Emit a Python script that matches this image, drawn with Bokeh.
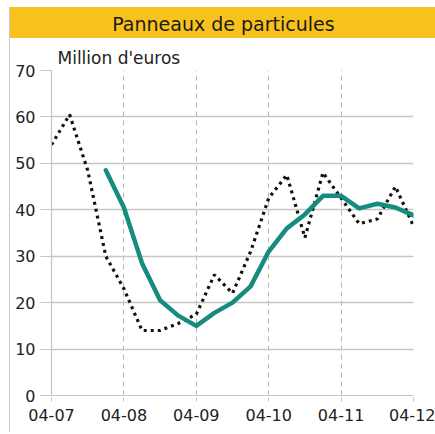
from bokeh.plotting import figure
from bokeh.layouts import column, row
from bokeh.models import FixedTicker, Range1d, Spacer
from bokeh.embed import file_html
from bokeh.resources import INLINE

# months since 2004-07 (quarterly)
months_dotted = [0, 3, 6, 9, 12, 15, 18, 21, 24, 27, 30, 33, 36, 39, 42, 45, 48, 51, 54, 57, 60]
values_dotted = [54, 60.5, 48.5, 30, 23, 14, 14, 15.5, 17.5, 26, 22, 31, 42.5, 47.5, 34, 48, 42.5, 37, 38, 45, 36.5]

months_trend = [9, 12, 15, 18, 21, 24, 27, 30, 33, 36, 39, 42, 45, 48, 51, 54, 57, 60]
values_trend = [48.5, 40.5, 28.5, 20.5, 17.2, 15, 17.8, 20, 23.5, 31, 36, 39, 43, 43, 40.3, 41.3, 40.5, 38.8]

tick_months = [0, 12, 24, 36, 48, 60]
tick_labels = ["04-07", "04-08", "04-09", "04-10", "04-11", "04-12"]
y_ticks = [0, 10, 20, 30, 40, 50, 60, 70]

TITLE = "Panneaux de particules"
UNIT = "Million d'euros"

FONT = "DejaVu Sans"
GRID = "#c9c4c4"
TEXT = "#222222"
YELLOW = "#F8C21C"

# header band (its frame is aligned with the chart frame below)
band = figure(width=425, height=31, output_backend="svg", toolbar_location=None,
              x_range=Range1d(0, 1), y_range=Range1d(0, 1),
              x_axis_type=None, y_axis_type=None,
              min_border=0, margin=(0, 0, 0, 0),
              styles={"background-color": YELLOW})
band.grid.visible = False
band.outline_line_color = None
band.background_fill_color = YELLOW
band.border_fill_color = YELLOW
band.text(x=[0.475], y=[0.47], text=[TITLE], text_align="center", text_baseline="middle",
          text_font={"value": FONT}, text_font_size="19px", text_color="#1a1a1a")

# main chart
p = figure(width=425, height=394, output_backend="svg", toolbar_location=None,
           x_range=Range1d(0, 60), y_range=Range1d(0, 70),
           min_border_left=41, min_border_right=22, min_border_top=32, min_border_bottom=37,
           margin=(0, 0, 0, 0))
p.outline_line_color = None
p.title.text = UNIT
p.title.align = "left"
p.title.offset = 6
p.title.standoff = 6
p.title.text_font = FONT
p.title.text_font_size = "17px"
p.title.text_font_style = "normal"
p.title.text_color = TEXT

p.xaxis.ticker = FixedTicker(ticks=tick_months)
p.xaxis.major_label_overrides = {m: l for m, l in zip(tick_months, tick_labels)}
p.yaxis.ticker = FixedTicker(ticks=y_ticks)
for ax in (p.xaxis, p.yaxis):
    ax.axis_line_color = GRID
    ax.axis_line_width = 1.2
    ax.major_tick_line_color = GRID
    ax.minor_tick_line_color = None
    ax.major_label_text_font = FONT
    ax.major_label_text_font_size = "16px"
    ax.major_label_text_color = TEXT
p.xaxis.major_tick_in = 0
p.xaxis.major_tick_out = 6
p.xaxis.major_tick_line_dash = "4 3"
p.xaxis.major_label_standoff = 7
p.yaxis.major_tick_in = 0
p.yaxis.major_tick_out = 11
p.yaxis.major_label_standoff = 5

p.xgrid.grid_line_color = "#b5b5b5"
p.xgrid.grid_line_dash = "5 4"
p.xgrid.grid_line_width = 1
p.ygrid.grid_line_color = GRID
p.ygrid.grid_line_width = 1.5

p.line(months_dotted, values_dotted, line_color="#111111", line_width=3.2,
       line_dash="3 4")
p.line(months_trend, values_trend, line_color="#168C7E", line_width=4.5,
       line_join="round", line_cap="round")

edge = Spacer(width=1, height=425, margin=(0, 0, 0, 0),
              styles={"background-color": "#c8c8c8"})
layout = row(Spacer(width=9, height=10, margin=(0, 0, 0, 0)), edge,
             column(band, p, margin=(0, 0, 0, 0), spacing=0),
             margin=(7, 0, 0, 0), spacing=0)

open("out.html", "w").write(file_html(layout, INLINE))
